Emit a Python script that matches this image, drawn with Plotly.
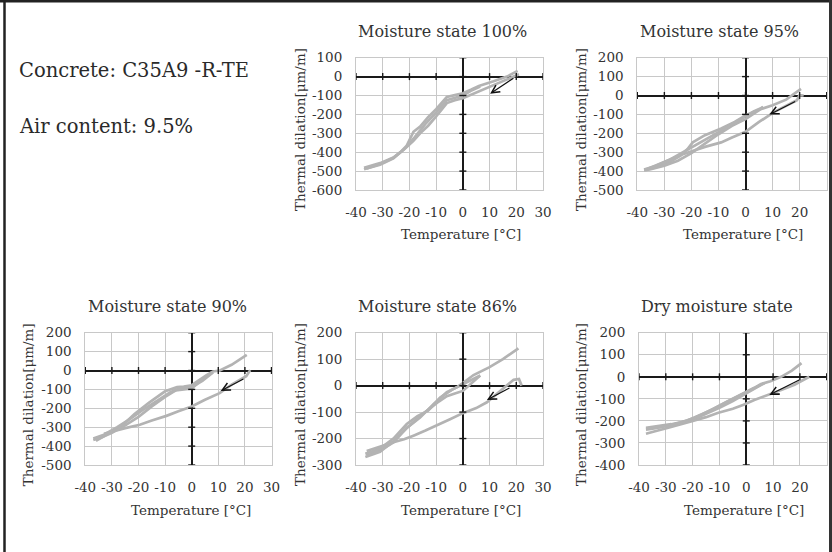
import plotly.graph_objects as go

W, H = 832, 552
FONT = "DejaVu Serif"
TXT = "#333333"
CURVE = "#b3b3b3"

# Temperature ticks shared by every panel
x_ticks = [-40, -30, -20, -10, 0, 10, 20, 30]

# ---- Moisture state 100% ----
m100_cool1_t = [21, 16.5, 11.5, 6.5, 3, 0, -3, -6, -10, -13, -16, -18.5, -21, -24, -26, -31, -35, -37]
m100_cool1_e = [12, -15, -45, -75, -95, -114, -125, -140, -210, -260, -300, -340, -372, -410, -432, -466, -482, -490]
m100_heat1_t = [-37, -35, -31, -26, -23, -21, -18.5, -16, -13, -10, -6, -3, 0, 3, 6, 11.5, 16.5, 20.5]
m100_heat1_e = [-482, -475, -458, -428, -395, -365, -292, -265, -215, -172, -108, -98, -88, -70, -50, -25, 0, 30]
m100_cool2_t = [6.5, 3, 0, -3, -6, -10, -14, -18, -22, -26, -31, -36]
m100_cool2_e = [-52, -75, -100, -112, -125, -190, -250, -320, -385, -430, -462, -486]
m100_yticks = [-600, -500, -400, -300, -200, -100, 0, 100]
m100_arrow = (19.5, -3, 10.2, -91)

# ---- Moisture state 95% ----
m95_cool1_t = [21.5, 20, 19, 15, 10.5, 5, 0, -5, -9, -15, -19, -24, -29, -33, -36.5]
m95_cool1_e = [0, 2, -25, -55, -88, -140, -192, -222, -248, -272, -292, -315, -345, -370, -390]
m95_heat1_t = [-37, -33, -28, -24, -21.5, -19.5, -15, -9, -4, 0, 5, 10, 15, 20.5]
m95_heat1_e = [-394, -380, -352, -318, -285, -248, -210, -175, -140, -105, -75, -52, -22, 35]
m95_cool2_t = [6.5, 5, 0, -5, -10, -15, -20, -25, -30, -35, -37.5]
m95_cool2_e = [-60, -78, -125, -160, -205, -255, -305, -345, -372, -390, -396]
m95_heat2_t = [-37.5, -33, -28, -23, -18, -13, -8, -3, 0, 3, 6.5]
m95_heat2_e = [-392, -372, -340, -300, -260, -218, -178, -135, -110, -85, -62]
m95_yticks = [-500, -400, -300, -200, -100, 0, 100, 200]
m95_arrow = (18.9, -28, 8.8, -101)

# ---- Moisture state 90% ----
m90_cool1_t = [22, 20.5, 15, 10.5, 5, 0, -5, -9.5, -15, -19.5, -25, -29.5, -33]
m90_cool1_e = [2, -30, -75, -120, -155, -190, -215, -240, -265, -287, -305, -320, -335]
m90_heat1_t = [-36, -31, -26, -21.5, -16, -10, -5.5, -3, 0, 5.6, 8, 10.6, 15, 20.7]
m90_heat1_e = [-372, -330, -290, -230, -170, -110, -88, -85, -78, -25, -5, 0, 30, 83]
m90_cool2_t = [8, 5, 0, -3, -6, -10, -15, -20, -25, -30, -34, -37]
m90_cool2_e = [-8, -35, -95, -100, -105, -140, -190, -245, -290, -330, -355, -368]
m90_heat2_t = [-37, -33, -28, -23, -18, -13, -8, -4, 0, 4, 8]
m90_heat2_e = [-360, -340, -300, -255, -205, -160, -115, -92, -88, -55, -10]
m90_yticks = [-500, -400, -300, -200, -100, 0, 100, 200]
m90_arrow = (20, -41, 10.9, -108)

# ---- Moisture state 86% ----
m86_cool1_t = [22, 21, 19, 17, 13, 9, 5, 0, -5, -9.7, -14, -18.5, -22, -26, -31, -36]
m86_cool1_e = [0, 25, 22, 5, -30, -63, -85, -104, -128, -151, -170, -189, -203, -214, -230, -247]
m86_heat1_t = [-36, -31, -26, -21, -16, -11, -6, -2, 0, 4, 10, 15, 20.8]
m86_heat1_e = [-265, -245, -215, -160, -120, -70, -25, -5, 10, 40, 70, 100, 141]
m86_cool2_t = [6.5, 4, 2, 0, -3, -6, -9, -14.7, -21, -26, -31, -36.5]
m86_cool2_e = [38, 15, 0, -20, -30, -40, -60, -105, -160, -210, -250, -270]
m86_heat2_t = [-36.5, -31, -26, -21, -17, -13, -8.5, -4, 0, 3, 6.5]
m86_heat2_e = [-258, -238, -200, -145, -115, -95, -45, -15, 5, 20, 38]
m86_yticks = [-300, -200, -100, 0, 100, 200]
m86_arrow = (18, -6, 9, -54)

# ---- Dry moisture state ----
dry_cool1_t = [23.5, 20, 18, 13, 8, 3, -1, -5, -10.7, -15, -20.6, -25, -29.4, -34, -37.4]
dry_cool1_e = [0, -25, -36, -60, -81, -105, -127, -145, -164, -183, -202, -218, -232, -247, -258]
dry_heat1_t = [-37.4, -33, -28, -24, -19.4, -15, -10.7, -5, -1, 3, 5.5, 9, 13, 17, 20.6]
dry_heat1_e = [-232, -225, -215, -205, -187, -162, -134, -100, -74, -50, -33, -20, 0, 28, 62]
dry_cool2_t = [6.7, 3, -1, -5, -10, -15, -20, -25, -30, -35, -37.4]
dry_cool2_e = [-29, -55, -85, -110, -140, -168, -195, -212, -225, -235, -240]
dry_heat2_t = [-37.4, -32, -27, -22, -17, -12, -7, -3, 0, 3.5, 6.7]
dry_heat2_e = [-236, -228, -215, -198, -172, -145, -112, -88, -70, -48, -29]
dry_yticks = [-400, -300, -200, -100, 0, 100, 200]
dry_arrow = (20.3, -11, 8.6, -82)

panels = [
    dict(title="Moisture state 100%",
         curves=[(m100_cool1_t, m100_cool1_e), (m100_heat1_t, m100_heat1_e), (m100_cool2_t, m100_cool2_e)],
         yticks=m100_yticks, arrow=m100_arrow,
         box=(356, 543, 57.7, 190), title_xy=(442, 31.7), xt_xy=(461, 234), yt_xy=(300, 130)),
    dict(title="Moisture state 95%",
         curves=[(m95_cool1_t, m95_cool1_e), (m95_heat1_t, m95_heat1_e), (m95_cool2_t, m95_cool2_e), (m95_heat2_t, m95_heat2_e)],
         yticks=m95_yticks, arrow=m95_arrow,
         box=(637.3, 826.7, 57.7, 190), title_xy=(719.7, 31.7), xt_xy=(743.3, 234), yt_xy=(581, 130)),
    dict(title="Moisture state 90%",
         curves=[(m90_cool1_t, m90_cool1_e), (m90_heat1_t, m90_heat1_e), (m90_cool2_t, m90_cool2_e), (m90_heat2_t, m90_heat2_e)],
         yticks=m90_yticks, arrow=m90_arrow,
         box=(85.3, 271.5, 332.7, 465), title_xy=(167, 306.7), xt_xy=(191, 510), yt_xy=(28.3, 405)),
    dict(title="Moisture state 86%",
         curves=[(m86_cool1_t, m86_cool1_e), (m86_heat1_t, m86_heat1_e), (m86_cool2_t, m86_cool2_e), (m86_heat2_t, m86_heat2_e)],
         yticks=m86_yticks, arrow=m86_arrow,
         box=(356, 543, 332.7, 465), title_xy=(437, 306.7), xt_xy=(461, 510), yt_xy=(300, 405)),
    dict(title="Dry moisture state",
         curves=[(dry_cool1_t, dry_cool1_e), (dry_heat1_t, dry_heat1_e), (dry_cool2_t, dry_cool2_e), (dry_heat2_t, dry_heat2_e)],
         yticks=dry_yticks, arrow=dry_arrow,
         box=(639, 826.7, 332.7, 465), title_xy=(716.7, 306.7), xt_xy=(743.5, 510), yt_xy=(581, 405)),
]

fig = go.Figure()
annotations = []


def px(xp, yp):
    return xp / W, 1 - yp / H


for i, p in enumerate(panels, start=1):
    sx = "" if i == 1 else str(i)
    xa, ya = "x" + sx, "y" + sx
    left, right, top, bottom = p["box"]
    yt = p["yticks"]

    for t, e in p["curves"]:
        fig.add_trace(go.Scatter(x=t, y=e, xaxis=xa, yaxis=ya, mode="lines",
                                 line=dict(color=CURVE, width=2.7),
                                 hoverinfo="skip", showlegend=False))
    # small tick marks along the two zero axes
    fig.add_trace(go.Scatter(x=x_ticks, y=[0] * len(x_ticks), xaxis=xa, yaxis=ya, mode="markers",
                             marker=dict(symbol="line-ns", size=5, line=dict(color="#1a1a1a", width=1.4)),
                             hoverinfo="skip", showlegend=False, cliponaxis=False))
    fig.add_trace(go.Scatter(x=[0] * len(yt), y=yt, xaxis=xa, yaxis=ya, mode="markers",
                             marker=dict(symbol="line-ew", size=5, line=dict(color="#1a1a1a", width=1.4)),
                             hoverinfo="skip", showlegend=False, cliponaxis=False))

    common = dict(showgrid=True, gridcolor="#c8c8c8", gridwidth=1,
                  zeroline=True, zerolinecolor="#1a1a1a", zerolinewidth=2,
                  showline=True, linecolor="#c8c8c8", linewidth=1, mirror=True,
                  ticks="", tickfont=dict(family=FONT, size=13.5, color=TXT),
                  ticklabelstandoff=10, automargin=False, fixedrange=True)
    fig.layout["xaxis" + sx] = dict(common, domain=[left / W, right / W], anchor=ya,
                                    range=[-40, 30], tickvals=x_ticks,
                                    ticktext=[str(v) for v in x_ticks])
    fig.layout["yaxis" + sx] = dict(common, domain=[1 - bottom / H, 1 - top / H], anchor=xa,
                                    range=[yt[0], yt[-1]], tickvals=yt,
                                    ticktext=[str(v) for v in yt])

    tx, ty = px(*p["title_xy"])
    annotations.append(dict(text=p["title"], x=tx, y=ty, xref="paper", yref="paper",
                            showarrow=False, xanchor="center", yanchor="middle",
                            font=dict(family=FONT, size=16, color=TXT)))
    tx, ty = px(*p["xt_xy"])
    annotations.append(dict(text="Temperature [°C]", x=tx, y=ty, xref="paper", yref="paper",
                            showarrow=False, xanchor="center", yanchor="middle",
                            font=dict(family=FONT, size=13.5, color=TXT)))
    tx, ty = px(*p["yt_xy"])
    annotations.append(dict(text="Thermal dilation[μm/m]", x=tx, y=ty, xref="paper", yref="paper",
                            showarrow=False, xanchor="center", yanchor="middle", textangle=-90,
                            font=dict(family=FONT, size=13.5, color=TXT)))

    x0, y0, x1, y1 = p["arrow"]
    annotations.append(dict(x=x1, y=y1, ax=x0, ay=y0, xref=xa, yref=ya, axref=xa, ayref=ya,
                            text="", showarrow=True, arrowhead=5, arrowsize=1.3,
                            arrowwidth=1.2, arrowcolor="#111111"))

# specimen description
for txt, yp in [("Concrete: C35A9 -R-TE", 70), ("Air content: 9.5%", 126)]:
    tx, ty = px(17, yp)
    annotations.append(dict(text=txt, x=tx, y=ty, xref="paper", yref="paper",
                            showarrow=False, xanchor="left", yanchor="middle",
                            font=dict(family=FONT, size=19.5, color="#2a2a2a")))

# outer frame (left, top, right edges)
frame = [
    dict(type="line", xref="paper", yref="paper", x0=4.5 / W, x1=4.5 / W, y0=0, y1=1,
         line=dict(color="#222222", width=2.5)),
    dict(type="line", xref="paper", yref="paper", x0=0, x1=1, y0=1 - 1.2 / H, y1=1 - 1.2 / H,
         line=dict(color="#222222", width=2.5)),
    dict(type="line", xref="paper", yref="paper", x0=830.5 / W, x1=830.5 / W, y0=0, y1=1,
         line=dict(color="#333333", width=3)),
]

fig.update_layout(width=W, height=H,
                  margin=dict(l=0, r=0, t=0, b=0, pad=0, autoexpand=False),
                  paper_bgcolor="white", plot_bgcolor="white",
                  annotations=annotations, shapes=frame, showlegend=False)

fig.write_html("out.html")
